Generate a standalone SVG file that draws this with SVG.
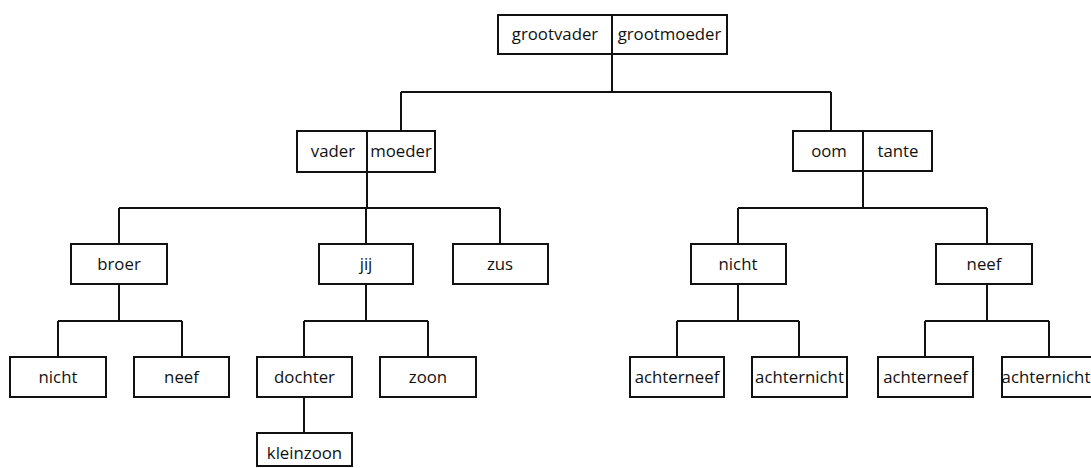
<svg xmlns="http://www.w3.org/2000/svg" width="1091" height="468" viewBox="0 0 1091 468">
<style>
.box{fill:#fff;stroke:#111;stroke-width:2}
.ln{fill:none;stroke:#111;stroke-width:2}
text{font-family:"Open Sans","Liberation Sans",sans-serif;font-size:16.8px;fill:#111;text-anchor:middle}
</style>
<rect width="1091" height="468" fill="#fff"/>
<g id="connectors" class="ln">
<path d="M612 54V92M401 92H831M401 92V131M831 92V131"/>
<path d="M367 172V208M119 208H500M119 208V244M366 208V244M500 208V244"/>
<path d="M119 284V321M58 321H182M58 321V357M182 321V357"/>
<path d="M366 284V321M304 321H428M304 321V357M428 321V357"/>
<path d="M304 397V433"/>
<path d="M863 171V208M738 208H987M738 208V244M987 208V244"/>
<path d="M738 284V321M677 321H799M677 321V357M799 321V357"/>
<path d="M987 284V321M925 321H1049M925 321V357M1049 321V357"/>
</g>
<g id="grootouders"><rect class="box" x="498" y="15" width="229" height="39"/><line class="ln" x1="612" y1="15" x2="612" y2="54"/><text x="555" y="40">grootvader</text><text x="669.5" y="40">grootmoeder</text></g>
<g id="ouders"><rect class="box" x="297" y="131" width="138" height="41"/><line class="ln" x1="367" y1="131" x2="367" y2="172"/><text x="333" y="157">vader</text><text x="401" y="157">moeder</text></g>
<g id="oom-tante"><rect class="box" x="793" y="131" width="139" height="40"/><line class="ln" x1="863" y1="131" x2="863" y2="171"/><text x="829" y="157">oom</text><text x="898" y="157">tante</text></g>
<g id="broer"><rect class="box" x="71" y="244" width="96" height="40"/><text x="119" y="270">broer</text></g>
<g id="jij"><rect class="box" x="319" y="244" width="94" height="40"/><text x="366" y="270">jij</text></g>
<g id="zus"><rect class="box" x="453" y="244" width="95" height="40"/><text x="500" y="270">zus</text></g>
<g id="nicht1"><rect class="box" x="691" y="244" width="95" height="40"/><text x="738" y="270">nicht</text></g>
<g id="neef1"><rect class="box" x="936" y="244" width="96" height="40"/><text x="984" y="270">neef</text></g>
<g id="nicht2"><rect class="box" x="10" y="357" width="96" height="40"/><text x="58" y="383">nicht</text></g>
<g id="neef2"><rect class="box" x="134" y="357" width="95" height="40"/><text x="181.5" y="383">neef</text></g>
<g id="dochter"><rect class="box" x="257" y="357" width="95" height="40"/><text x="304.5" y="383">dochter</text></g>
<g id="zoon"><rect class="box" x="380" y="357" width="96" height="40"/><text x="428" y="383">zoon</text></g>
<g id="kleinzoon"><rect class="box" x="257" y="433" width="95" height="33"/><text x="304.5" y="459">kleinzoon</text></g>
<g id="achterneef1"><rect class="box" x="630" y="357" width="94" height="40"/><text x="677" y="383">achterneef</text></g>
<g id="achternicht1"><rect class="box" x="752" y="357" width="95" height="40"/><text x="799.5" y="383">achternicht</text></g>
<g id="achterneef2"><rect class="box" x="878" y="357" width="95" height="40"/><text x="925.5" y="383">achterneef</text></g>
<g id="achternicht2"><rect class="box" x="1002" y="357" width="95" height="40"/><text x="1046" y="383">achternicht</text></g>
</svg>
